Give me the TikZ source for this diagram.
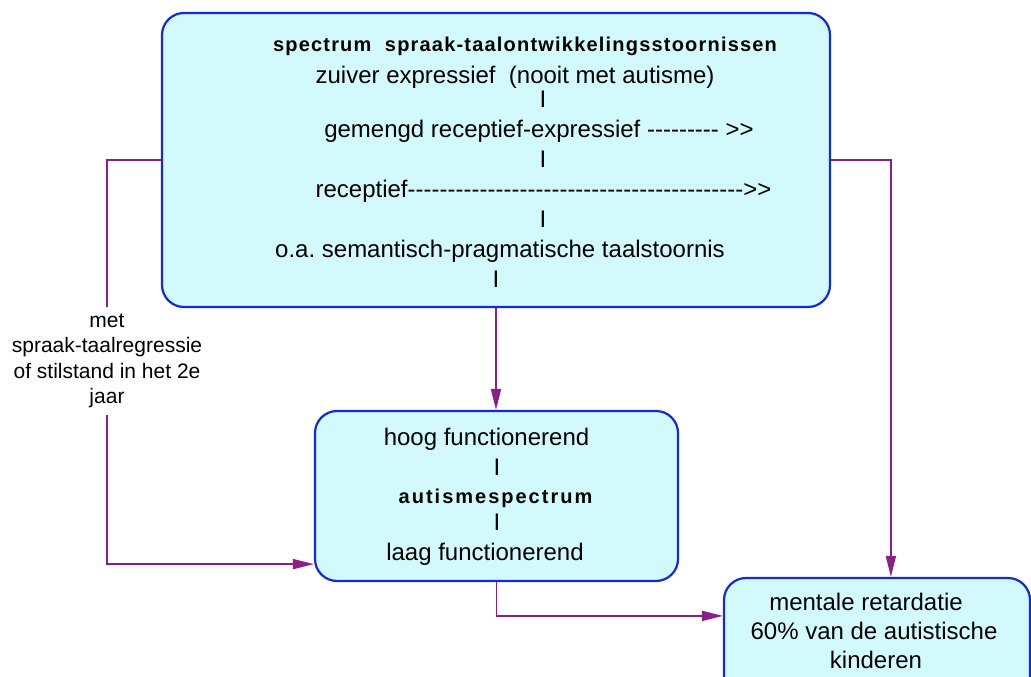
\documentclass[tikz,border=0pt]{standalone}
\usepackage{fontspec}
\setmainfont{Liberation Sans}[Ligatures=TeXOff]
\newfontfamily\titlefont{Liberation Sans}[LetterSpace=6,Ligatures=TeXOff]
\newfontfamily\spacedfont{Liberation Sans}[LetterSpace=10,Ligatures=TeXOff]
\usetikzlibrary{arrows.meta,calc}
\definecolor{boxfill}{RGB}{210,250,253}
\definecolor{boxline}{RGB}{20,40,220}
\definecolor{linkcol}{RGB}{140,30,135}
\frenchspacing
\tikzset{
  panel/.style={draw=boxline, line width=2.2pt, fill=boxfill, rounded corners=22pt, inner sep=0pt},
  txt/.style={anchor=base, inner sep=0pt, font=\fontsize{24}{28}\selectfont},
  link/.style={draw=linkcol, line width=1.8pt},
  arr/.style={link, -{Triangle[length=21pt,width=10pt]}},
}
\begin{document}
\begin{tikzpicture}[x=1pt,y=-1pt]
\useasboundingbox (0,0) rectangle (1031,677);

% boxes
\node[panel, minimum width=668pt, minimum height=294pt] (top) at (496,160) {};
\node[panel, minimum width=363pt, minimum height=170pt] (mid) at (496.5,496) {};
\node[panel, minimum width=306pt, minimum height=142pt] (ret) at (877,649) {};

% upper box contents
\node[anchor=base, inner sep=0pt, font=\fontsize{20}{24}\titlefont\bfseries] (t0) at (525,52)
  {spectrum\ \ spraak-taalontwikkelingsstoornissen};
\node[txt] (t1) at (515,84) {zuiver expressief\ \ (nooit met autisme)};
\node[txt] (b1) at (543,107) {I};
\node[txt] (t2) at (539,137) {gemengd receptief-expressief --------- >>};
\node[txt] (b2) at (543,167) {I};
\node[txt] (t3) at (543.5,197) {receptief------------------------------------------>>};
\node[txt] (b3) at (543,227) {I};
\node[txt] (t4) at (500,257) {o.a. semantisch-pragmatische taalstoornis};
\node[txt] (b4) at (496,287) {I};

% middle box contents
\node[txt] (m1) at (486.5,445) {hoog functionerend};
\node[txt] (mb1) at (497,475) {I};
\node[anchor=base, inner sep=0pt, font=\fontsize{20}{24}\spacedfont\bfseries] (m2) at (495.5,503)
  {autismespectrum};
\node[txt] (mb2) at (497,530) {I};
\node[txt] (m3) at (485,560) {laag functionerend};

% lower right box contents
\node[txt] (r1) at (866,610) {mentale retardatie};
\node[txt] (r2) at (874,639) {60\% van de autistische};
\node[txt] (r3) at (876,668) {kinderen};

% side label
\node[inner sep=0pt, minimum height=108pt, align=center,
      font=\fontsize{21}{25.3}\selectfont] (lbl) at (107,361)
      {met\\spraak-taalregressie\\of stilstand in het 2e\\jaar};

% connectors
\draw[link] (top.west) -| (lbl.north);
\draw[arr] (lbl.south) |- ($(mid.south west)+(0,-18)$);
\draw[arr] (top.south) -- (top.south |- mid.north);
\draw[arr] (top.east) -| ($(ret.north west)+(168,0)$);
\draw[arr] (mid.south) |- ($(ret.north west)+(0,39)$);
\end{tikzpicture}
\end{document}
